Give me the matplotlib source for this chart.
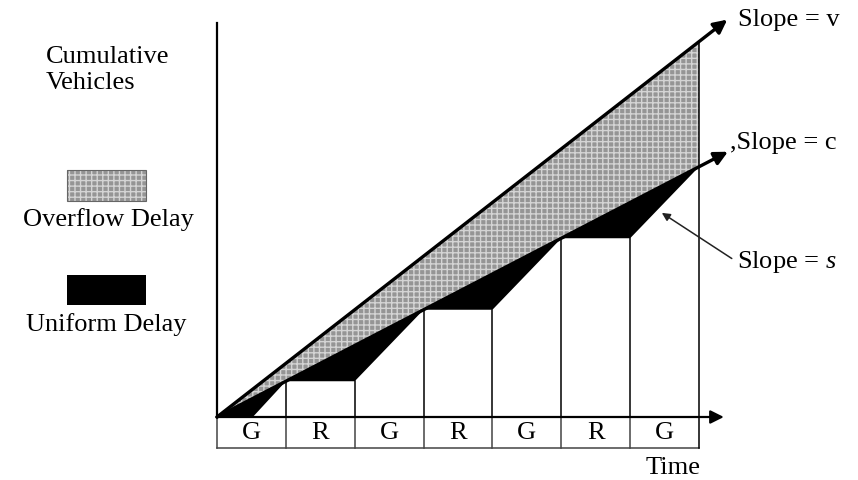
import numpy as np
import matplotlib
matplotlib.use('Agg')
import matplotlib.pyplot as plt
from matplotlib.patches import Rectangle

plt.rcParams['font.family'] = ['Liberation Serif', 'DejaVu Serif']
plt.rcParams['mathtext.fontset'] = 'custom'
plt.rcParams['mathtext.rm'] = 'Liberation Serif'
plt.rcParams['mathtext.it'] = 'Liberation Serif:italic'
plt.rcParams['hatch.linewidth'] = 1.0

# Datos (tiempo en fases, vehiculos acumulados)
phase_labels = ['G', 'R', 'G', 'R', 'G', 'R', 'G']
dep_t = [0, 0.52, 1, 2, 3, 4, 5, 6, 7]
dep_n = [0, 0, 1, 1, 3, 3, 5, 5, 7]
v_slope = 1.5
c_slope = 1.0
t_end = 7

FS = 19
GRAY = '#959595'
SPECK = '#d4d4d4'
W, H = 858, 480
fig = plt.figure(figsize=(W / 100, H / 100), dpi=100)
ax = fig.add_axes([0, 0, 1, 1])
ax.axis('off')

# escala: 68.86 px por fase, 35.75 px por vehiculo, origen en (217, 417)
px_t, px_n, x0, y0 = 68.86, 35.75, 217, 417
ax.set_xlim(-x0 / px_t, (W - x0) / px_t)
ax.set_ylim(-(H - y0) / px_n, y0 / px_n)

t = np.array(dep_t, dtype=float)
n = np.array(dep_n, dtype=float)

# overflow (gris) entre llegada v y capacidad c
tt = np.array([0, t_end])
ax.fill_between(tt, c_slope * tt, v_slope * tt, facecolor=GRAY,
                edgecolor=SPECK, hatch='+++', linewidth=0, zorder=1)
# uniform (negro) entre c y la curva de salida
ax.fill_between(t, n, c_slope * t, facecolor='black', linewidth=0, zorder=2)

# lineas verticales de los pasos
for k in range(1, t_end + 1):
    top = v_slope * k if k == t_end else np.interp(k, t, n)
    ax.plot([k, k], [0, top], color='black', lw=1.1, zorder=3)

# ejes
ax.plot([0, 0], [0, 11.02], color='black', lw=1.6, zorder=4)
ax.annotate('', xy=(7.36, 0), xytext=(0, 0),
            arrowprops=dict(arrowstyle='-|>', lw=1.6, color='black',
                            mutation_scale=20, shrinkA=0, shrinkB=0), zorder=4)

# cajas de fases
box_h = 0.87
ax.plot([0, t_end], [-box_h, -box_h], color='#444444', lw=1.1)
for k in range(t_end + 1):
    ax.plot([k, k], [-box_h, 0], color='#444444' if k < t_end else 'black', lw=1.1)
for k, lab in enumerate(phase_labels):
    ax.text(k + 0.5, -box_h / 2, lab, ha='center', va='center', fontsize=FS)

# lineas v y c con flechas
for slope, tip in [(v_slope, 7.41), (c_slope, 7.42)]:
    ax.annotate('', xy=(tip, slope * tip), xytext=(0, 0),
                arrowprops=dict(arrowstyle='-|>', lw=2.4, color='black',
                                mutation_scale=20, shrinkA=0, shrinkB=0), zorder=5)

ax.text(7.57, 11.1, 'Slope = v', ha='left', va='center', fontsize=FS)
ax.text(7.45, 7.66, ',Slope = c', ha='left', va='center', fontsize=FS)
ax.annotate('Slope = $s$', xy=(6.46, 5.71), xytext=(7.55, 4.34),
            ha='left', va='center', fontsize=FS,
            arrowprops=dict(arrowstyle='-|>', lw=1.1, color='#222222',
                            mutation_scale=12, shrinkA=2, shrinkB=0,
                            relpos=(0, 0.5)))

ax.text(673 / W, 1 - 468 / H, 'Time', transform=ax.transAxes,
        ha='center', va='center', fontsize=FS)

# leyenda izquierda
ax.text(46 / W, 1 - 57 / H, 'Cumulative', transform=ax.transAxes,
        ha='left', va='center', fontsize=FS)
ax.text(46 / W, 1 - 83 / H, 'Vehicles', transform=ax.transAxes,
        ha='left', va='center', fontsize=FS)
ax.add_patch(Rectangle((67 / W, 1 - 201 / H), 79 / W, 31 / H, transform=ax.transAxes,
                       facecolor=GRAY, edgecolor=SPECK, hatch='+++', lw=0))
ax.add_patch(Rectangle((67 / W, 1 - 201 / H), 79 / W, 31 / H, transform=ax.transAxes,
                       facecolor='none', edgecolor='#666666', lw=0.8))
ax.text(108 / W, 1 - 220 / H, 'Overflow Delay', transform=ax.transAxes,
        ha='center', va='center', fontsize=FS)
ax.add_patch(Rectangle((67 / W, 1 - 305 / H), 79 / W, 30 / H, transform=ax.transAxes,
                       facecolor='black', lw=0))
ax.text(106 / W, 1 - 325 / H, 'Uniform Delay', transform=ax.transAxes,
        ha='center', va='center', fontsize=FS)

fig.savefig('out.png', dpi=100)
